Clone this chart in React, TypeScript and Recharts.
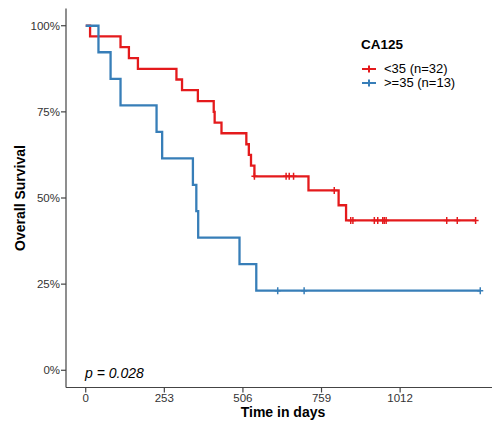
import { ComposedChart, Line, Scatter, XAxis, YAxis } from 'recharts';

// step times (days) and survival (%)
const lowTimes = [0, 14, 112, 139, 168, 292, 310, 361, 412, 415, 437, 517, 525, 532, 543, 717, 814, 838, 1255];
const lowSurv = [100, 96.9, 93.8, 90.6, 87.5, 84.4, 81.3, 78.1, 75, 71.9, 68.8, 65.6, 62.5, 59.4, 56.3, 52.2, 47.9, 43.5, 43.5];
const lowCensorTimes = [543, 645, 655, 669, 800, 853, 860, 929, 940, 956, 961, 967, 1162, 1196, 1255];
const lowCensorSurv = [56.3, 56.3, 56.3, 56.3, 52.2, 43.5, 43.5, 43.5, 43.5, 43.5, 43.5, 43.5, 43.5, 43.5, 43.5];

const highTimes = [0, 41, 80, 112, 228, 246, 345, 356, 362, 495, 549, 1270];
const highSurv = [100, 92.3, 84.6, 76.9, 69.2, 61.5, 53.8, 46.2, 38.5, 30.8, 23.1, 23.1];
const highCensorTimes = [618, 703, 1270];
const highCensorSurv = [23.1, 23.1, 23.1];

const xTicks = [0, 253, 506, 759, 1012];
const yTicks = [0, 25, 50, 75, 100];

const legendLabels = ['<35 (n=32)', '>=35 (n=13)'];
const RED = '#E41A1C';
const BLUE = '#377EB8';
const FONT = '"Liberation Sans", Arial, sans-serif';

const toRows = (ts: number[], ss: number[]) => ts.map((t, i) => ({ t, s: ss[i] }));

const lowData = toRows(lowTimes, lowSurv);
const highData = toRows(highTimes, highSurv);
const lowCensor = toRows(lowCensorTimes, lowCensorSurv);
const highCensor = toRows(highCensorTimes, highCensorSurv);

const plus = (color: string) => (props: any) => {
  const { cx, cy } = props;
  return (
    <path
      d={`M${cx - 3},${cy}H${cx + 3}M${cx},${cy - 3.5}V${cy + 3.5}`}
      stroke={color}
      strokeWidth={1.5}
      fill="none"
    />
  );
};

const tickStyle = { fontSize: 11.5, fill: '#333', fontFamily: FONT };

export default function App() {
  return (
    <div
      style={{
        position: 'absolute',
        left: 0,
        top: 0,
        width: 492,
        height: 422,
        overflow: 'hidden',
        background: 'white',
        fontFamily: FONT,
      }}
    >
      <ComposedChart width={510} height={422} margin={{ top: 8.5, right: 10, bottom: 0, left: 0 }}>
        <XAxis
          type="number"
          dataKey="t"
          domain={[-63.5, 1333.5]}
          ticks={xTicks}
          allowDataOverflow
          height={34.5}
          tick={tickStyle}
          tickSize={5}
          tickMargin={1}
          axisLine={{ stroke: '#444', strokeWidth: 1.2 }}
          tickLine={{ stroke: '#444', strokeWidth: 1.2 }}
          label={{
            value: 'Time in days',
            position: 'insideBottom',
            offset: 5,
            style: { fontSize: 14, fontWeight: 'bold', fill: '#000', fontFamily: FONT },
          }}
        />
        <YAxis
          type="number"
          dataKey="s"
          domain={[-5, 105]}
          ticks={yTicks}
          allowDataOverflow
          width={66}
          tick={tickStyle}
          tickSize={5}
          tickMargin={1}
          tickFormatter={(v) => `${v}%`}
          axisLine={{ stroke: '#444', strokeWidth: 1.2 }}
          tickLine={{ stroke: '#444', strokeWidth: 1.2 }}
        />
        <Line
          data={lowData}
          dataKey="s"
          type="stepAfter"
          stroke={RED}
          strokeWidth={2.3}
          dot={false}
          isAnimationActive={false}
        />
        <Line
          data={highData}
          dataKey="s"
          type="stepAfter"
          stroke={BLUE}
          strokeWidth={2.3}
          dot={false}
          isAnimationActive={false}
        />
        <Scatter data={lowCensor} dataKey="s" shape={plus(RED)} isAnimationActive={false} />
        <Scatter data={highCensor} dataKey="s" shape={plus(BLUE)} isAnimationActive={false} />
      </ComposedChart>

      <div
        style={{
          position: 'absolute',
          left: 20,
          top: 198,
          transform: 'translate(-50%, -50%) rotate(-90deg)',
          whiteSpace: 'nowrap',
          fontSize: 14,
          fontWeight: 'bold',
          lineHeight: '16px',
        }}
      >
        Overall Survival
      </div>

      <div
        style={{
          position: 'absolute',
          left: 85,
          top: 365,
          fontSize: 14,
          fontStyle: 'italic',
          lineHeight: '16px',
          whiteSpace: 'nowrap',
        }}
      >
        p = 0.028
      </div>

      <div style={{ position: 'absolute', left: 361, top: 37, fontSize: 13.5, fontWeight: 'bold', lineHeight: '16px' }}>
        CA125
      </div>
      {legendLabels.map((lab, i) => (
        <div
          key={lab}
          style={{
            position: 'absolute',
            left: 361,
            top: 61 + i * 14,
            height: 16,
            display: 'flex',
            alignItems: 'center',
            fontSize: 13,
            lineHeight: '16px',
            whiteSpace: 'nowrap',
          }}
        >
          <svg width={16} height={16} style={{ marginRight: 7 }}>
            <path
              d="M1,8H15M8,4.5V11.5"
              stroke={i === 0 ? RED : BLUE}
              strokeWidth={2}
              fill="none"
            />
          </svg>
          {lab}
        </div>
      ))}
    </div>
  );
}
